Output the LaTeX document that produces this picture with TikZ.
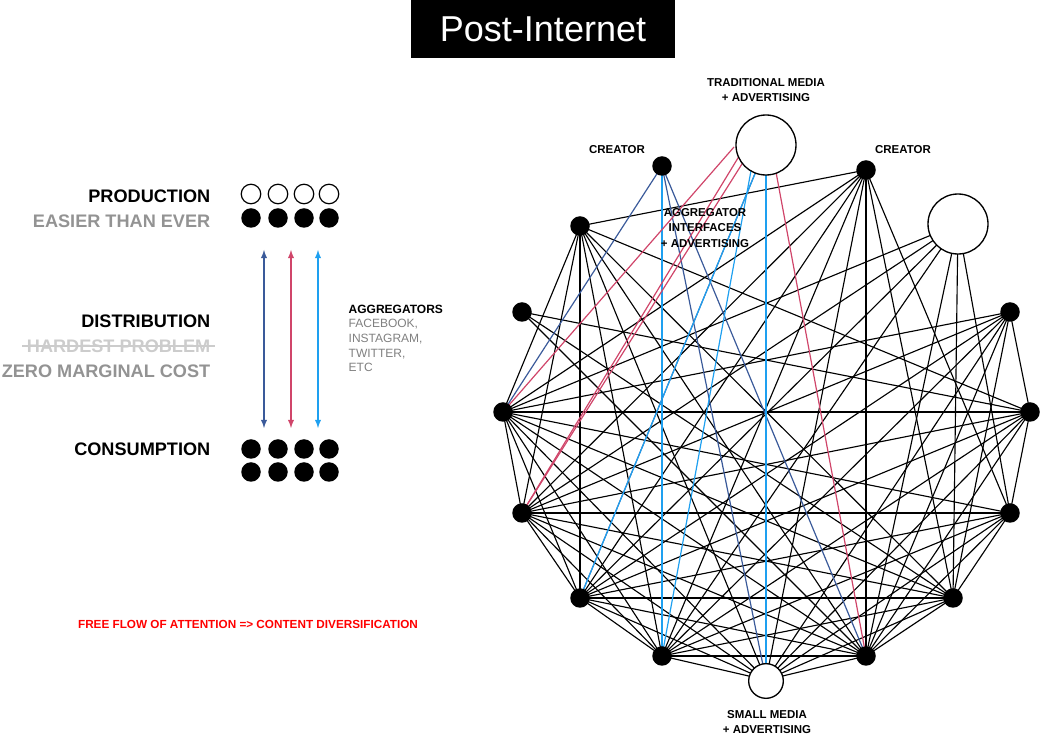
\documentclass[tikz,border=0pt]{standalone}
\usepackage{fontspec}
\setmainfont{Liberation Sans}
\begin{document}
\begin{tikzpicture}[x=0.75pt,y=-0.75pt,
  dot/.style={circle,fill=black,inner sep=0,minimum size=19.5pt*0.75},
  odot/.style={circle,draw=black,line width=0.9pt,fill=white,inner sep=0,minimum size=19.5pt*0.75},
  big/.style={circle,draw=black,line width=1pt,fill=white,inner sep=0,minimum size=45pt},
  med/.style={circle,draw=black,line width=1pt,fill=white,inner sep=0,minimum size=26pt},
  edge/.style={line width=0.85pt,black},
  dbl/.style={line width=0.9pt,color=cdb},
  red/.style={line width=0.9pt,color=cr},
  lbl/.style={line width=0.9pt,color=clb},
  big1/.style={font=\bfseries\fontsize{13.6}{15}\selectfont,anchor=east},
  gr1/.style={font=\bfseries\fontsize{13.6}{15}\selectfont,anchor=east,text=gray!85},
  sm/.style={font=\bfseries\fontsize{8.6}{11.5}\selectfont,align=center}]
\definecolor{cdb}{HTML}{3A5A9A}\definecolor{cr}{HTML}{D0456A}\definecolor{clb}{HTML}{1EA0F0}
\useasboundingbox (0,0) rectangle (1040,737);
% title
\node[fill=black,text=white,font=\fontsize{27}{27}\selectfont,minimum width=198pt,minimum height=43pt] (title) at (543,29) {Post-Internet};
% left side
\node[big1] (prod) at (215,196) {PRODUCTION};
\node[gr1] (easy) at (215,221) {EASIER THAN EVER};
\node[big1] (dist) at (215,321) {DISTRIBUTION};
\node[gr1,text=gray!40] (hard) at (215,346) {HARDEST PROBLEM};
\draw[gray!40,line width=1pt] (hard.west) -- (hard.east);
\node[gr1] (zero) at (215,371) {ZERO MARGINAL COST};
\node[big1] (cons) at (215,449) {CONSUMPTION};
\foreach \i/\x in {1/251,2/278,3/304,4/329}{
  \node[odot] (p\i) at (\x,194) {};
  \node[dot] (q\i) at (\x,218) {};
  \node[dot] (c\i) at (\x,449) {};
  \node[dot] (d\i) at (\x,472) {};}
\coordinate (a1t) at (264,250);\coordinate (a1b) at (264,428);
\coordinate (a2t) at (291,250);\coordinate (a2b) at (291,428);
\coordinate (a3t) at (318,250);\coordinate (a3b) at (318,428);
\draw[cdb,line width=1.1pt,<->,>=latex] (a1t) -- (a1b);
\draw[cr,line width=1.1pt,<->,>=latex] (a2t) -- (a2b);
\draw[clb,line width=1.1pt,<->,>=latex] (a3t) -- (a3b);
\node[anchor=north west,font=\bfseries\fontsize{9}{12}\selectfont,align=left] (agg) at (344,300) {AGGREGATORS\\[-1pt]{\mdseries\color{gray}FACEBOOK,}\\[-1pt]{\mdseries\color{gray}INSTAGRAM,}\\[-1pt]{\mdseries\color{gray}TWITTER,}\\[-1pt]{\mdseries\color{gray}ETC}};
\node[font=\bfseries\fontsize{8.8}{10}\selectfont,text=red] (free) at (248,624) {FREE FLOW OF ATTENTION => CONTENT DIVERSIFICATION};
% network nodes
\coordinate (T) at (766,147);
\coordinate (C1) at (662,166);
\coordinate (C2) at (866,170);
\coordinate (A) at (580,226);
\coordinate (W) at (958,224);
\coordinate (B) at (522,312);
\coordinate (R1) at (1010,312);
\coordinate (L) at (503,412);
\coordinate (R2) at (1030,412);
\coordinate (D) at (522,513);
\coordinate (R3) at (1010,513);
\coordinate (E) at (580,598);
\coordinate (R4) at (953,598);
\coordinate (F) at (662,656);
\coordinate (G) at (866,656);
\coordinate (S) at (766,680);
% black edges
\foreach \u/\vs in {C2/{A,L,D,E,F,G,R3,R4,S},
  A/{L,D,E,F,G,S,R4,R2},
  W/{L,D,E,F,G,R3,R4},
  B/{G,R2,R4},
  R1/{L,D,E,F,G,R4,R2,S},
  L/{D,E,F,G,S,R2,R3,R4},
  R2/{D,E,F,G,S,R3},
  D/{E,F,G,S,R3,R4},
  R3/{E,F,G,S,R4},
  E/{F,G,S,R4},
  R4/{F,G,S},
  F/{G,S},
  G/{S}}{
  \foreach \v in \vs { \draw[edge] (\u) -- (\v); } }
% coloured edges
\draw[dbl] (C1) -- (L);
\draw[dbl] (C1) -- (S);
\draw[dbl] (C1) -- (G);
\draw[lbl] (C1) -- (F);
\draw[dbl] (T) -- (E);
\draw[lbl] (T) -- (E);
\draw[lbl] ([xshift=-8]T) -- (F);
\draw[lbl] (T) -- (S);
\draw[red] ([xshift=-24]T) -- (L);
\draw[red] ([xshift=-16]T) -- (D);
\draw[red] ([xshift=-10]T) -- (D);
\draw[red] ([xshift=4]T) -- (G);
% nodes on top
\foreach \n in {C1,C2,A,B,R1,L,R2,D,R3,E,R4,F,G}{\node[dot] (n\n) at (\n) {};}
\node[big] (nT) at (766,145) {};
\node[big] (nW) at (958,224) {};
\node[med] (nS) at (766,681) {};
% labels
\node[sm] (lT) at (766,90) {TRADITIONAL MEDIA\\+ ADVERTISING};
\node[sm] (lC1) at (617,150) {CREATOR};
\node[sm] (lC2) at (903,150) {CREATOR};
\node[sm] (lAgg) at (705,228) {AGGREGATOR\\INTERFACES\\+ ADVERTISING};
\node[sm] (lS) at (767,722) {SMALL MEDIA\\+ ADVERTISING};
\end{tikzpicture}
\end{document}
